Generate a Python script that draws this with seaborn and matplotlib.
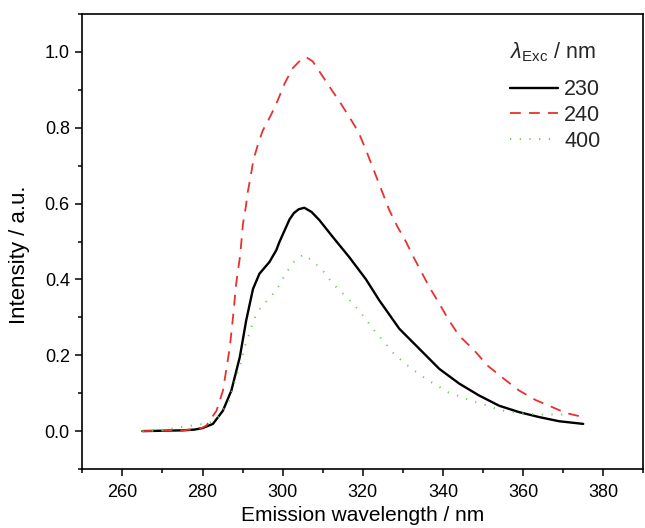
import matplotlib
matplotlib.use("Agg")
import matplotlib.pyplot as plt
import seaborn as sns
import pandas as pd
from matplotlib.ticker import MultipleLocator

# ---- data ----
x_230 = [265, 270, 275, 278, 280, 282.6, 285.1, 287.2, 289.3, 290.9, 292.6, 294.2, 296.7,
         298.4, 299.2, 301.7, 302.8, 304.0, 305.4, 307.2, 309.2, 312.5, 316.6, 320.8, 324.1,
         329.1, 334.1, 339.1, 344.1, 349.0, 354.0, 359.0, 364.0, 369.0, 375]
y_230 = [0.0, 0.001, 0.002, 0.004, 0.008, 0.019, 0.054, 0.107, 0.195, 0.292, 0.375, 0.415,
         0.446, 0.477, 0.499, 0.558, 0.575, 0.585, 0.589, 0.578, 0.556, 0.512, 0.459, 0.40,
         0.345, 0.27, 0.217, 0.164, 0.125, 0.094, 0.067, 0.050, 0.037, 0.026, 0.019]

x_240 = [265, 270, 275, 278, 280, 281, 283.5, 285.1, 286.8, 287.6, 288.4, 289.4, 290.1,
         290.8, 291.3, 292.0, 292.7, 293.8, 295.0, 297.1, 298.8, 300.5, 302.5, 304.5,
         305.9, 307.5, 309.2, 311.7, 314.2, 316.6, 318.9, 320.8, 323.7, 326.6, 328.7,
         330.8, 332.4, 336.6, 339.1, 341.5, 344.0, 347.8, 351.1, 355.2, 359.0, 363.1,
         366.9, 370.6, 375]
y_240 = [0.0, 0.001, 0.002, 0.005, 0.009, 0.015, 0.054, 0.107, 0.22, 0.30, 0.389, 0.464,
         0.547, 0.591, 0.631, 0.671, 0.715, 0.755, 0.792, 0.834, 0.873, 0.917, 0.957, 0.979,
         0.986, 0.975, 0.948, 0.908, 0.869, 0.829, 0.789, 0.741, 0.662, 0.583, 0.538,
         0.499, 0.464, 0.38, 0.336, 0.292, 0.252, 0.213, 0.173, 0.138, 0.107, 0.082,
         0.065, 0.048, 0.037]

x_400 = [265, 270, 274.3, 278.8, 281.3, 283.5, 285.1, 286.6, 288.0, 289.5, 290.7, 291.6,
         292.3, 293.2, 294.6, 296.7, 298.6, 299.9, 301.3, 302.9, 305.2, 307.5, 309.8,
         311.7, 313.6, 315.8, 317.9, 319.8, 321.6, 323.4, 325.4, 327.4, 329.7, 332.0,
         334.2, 336.6, 338.9, 341.1, 343.5, 345.7, 348.2, 350.5, 352.7, 355.0, 357.3,
         359.6, 362.0, 364.4, 366.6, 369.0, 371]
y_400 = [0.0, 0.003, 0.01, 0.017, 0.02, 0.032, 0.054, 0.081, 0.129, 0.178, 0.228, 0.254,
         0.277, 0.303, 0.327, 0.351, 0.374, 0.40, 0.424, 0.448, 0.466, 0.448, 0.426, 0.40,
         0.377, 0.355, 0.332, 0.308, 0.283, 0.258, 0.235, 0.208, 0.186, 0.166, 0.149,
         0.132, 0.118, 0.103, 0.094, 0.085, 0.076, 0.069, 0.061, 0.054, 0.05, 0.047,
         0.045, 0.044, 0.044, 0.044, 0.043]

series_labels = ["230", "240", "400"]
x_ticks = [260, 280, 300, 320, 340, 360, 380]
y_ticks = [0.0, 0.2, 0.4, 0.6, 0.8, 1.0]

# ---- style ----
sns.set_theme(style="white")
plt.rcParams["font.family"] = ["Liberation Sans", "DejaVu Sans"]
plt.rcParams["mathtext.fontset"] = "custom"
plt.rcParams["mathtext.rm"] = "Liberation Sans"
plt.rcParams["mathtext.it"] = "Liberation Sans:italic"

fig = plt.figure(figsize=(6.45, 5.28), dpi=100)
ax = fig.add_axes([0.1276, 0.1117, 0.8698, 0.8618])

colors = ["#000000", "#e8312c", "#5fcf3e"]
styles = [dict(lw=1.7, ls="-"),
          dict(lw=1.3, ls=(0, (6, 4.5))),
          dict(lw=1.4, ls=(0, (0.6, 4.4)))]

for xs, ys, lab, c, st in zip([x_230, x_240, x_400], [y_230, y_240, y_400],
                              series_labels, colors, styles):
    df = pd.DataFrame({"x": xs, "y": ys})
    sns.lineplot(data=df, x="x", y="y", ax=ax, color=c, label=lab,
                 sort=False, estimator=None, **st)

ax.set_xlim(250, 390)
ax.set_ylim(-0.1, 1.1)
ax.set_xticks(x_ticks)
ax.set_yticks(y_ticks)
ax.set_yticklabels([f"{v:.1f}" for v in y_ticks])
ax.xaxis.set_minor_locator(MultipleLocator(10))
ax.yaxis.set_minor_locator(MultipleLocator(0.1))
ax.tick_params(axis="both", which="major", direction="out", length=5, width=1.1,
               labelsize=13, color="black", labelcolor="black",
               bottom=True, left=True, top=False, right=False)
ax.tick_params(axis="x", which="major", pad=6)
ax.tick_params(axis="y", which="major", pad=4)
ax.tick_params(axis="both", which="minor", direction="out", length=2.8, width=1.1,
               bottom=True, left=True, top=False, right=False, color="black")
for s in ax.spines.values():
    s.set_color("black")
    s.set_linewidth(1.2)

ax.set_xlabel("Emission wavelength / nm", fontsize=15, color="black", va="top")
ax.xaxis.set_label_coords(0.5, -0.082)
ax.set_ylabel("Intensity / a.u.", fontsize=16, color="black")
ax.yaxis.set_label_coords(-0.093, 0.47)

leg = ax.legend(title=r"$\lambda_{\mathrm{Exc}}$ / nm", loc="upper left",
                bbox_to_anchor=(0.763, 0.942), frameon=False, fontsize=15.5,
                title_fontsize=15.5, handlelength=2.2, handletextpad=0.3,
                labelspacing=0.22, borderpad=0, borderaxespad=0)
leg._legend_box.align = "left"
leg._legend_box.sep = 11

fig.savefig("out.png", dpi=100)
